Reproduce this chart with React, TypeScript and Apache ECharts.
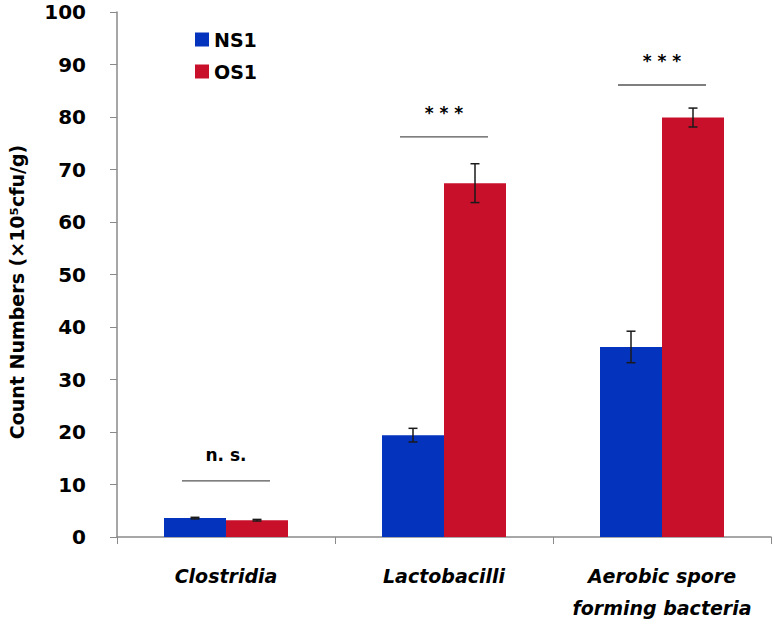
import React, { useEffect, useRef } from "react";
import * as echarts from "echarts";

const categories = ["Clostridia", "Lactobacilli", "Aerobic spore\nforming bacteria"];
const seriesNames = ["NS1", "OS1"];
const ns1Values = [3.6, 19.4, 36.2];
const ns1Errors = [0.15, 1.3, 3.0];
const os1Values = [3.2, 67.4, 79.9];
const os1Errors = [0.15, 3.7, 1.8];
const sigLevels = [10.7, 76.2, 86.1];
const sigLabels = ["n. s.", "* * *", "* * *"];
const yAxisTitle = "Count Numbers (×10⁵cfu/g)";

const BLUE = "#0433BE";
const RED = "#C8102B";
const FONT = "'DejaVu Sans', Verdana, sans-serif";

export default function App() {
  const ref = useRef<HTMLDivElement>(null);
  useEffect(() => {
    if (!ref.current) return;
    const chart = echarts.init(ref.current, undefined, { renderer: "svg" });
    const barW = 62;

    const errData: any[] = [];
    ns1Values.forEach((v, i) => errData.push([i, v, ns1Errors[i], -1]));
    os1Values.forEach((v, i) => errData.push([i, v, os1Errors[i], 1]));

    const sigData = sigLevels.map((v, i) => [i, v, sigLabels[i]]);

    chart.setOption({
      animation: false,
      grid: { left: 117, right: 3, top: 12, bottom: 87 },
      graphic: [
        {
          type: "text",
          x: 17,
          y: 292,
          rotation: Math.PI / 2,
          style: {
            text: yAxisTitle,
            fill: "#000",
            font: `bold 19px ${FONT}`,
            textAlign: "center",
            textVerticalAlign: "middle",
          },
        },
      ],
      legend: {
        data: seriesNames,
        orient: "vertical",
        left: 190,
        top: 25,
        itemWidth: 14,
        itemHeight: 14,
        itemGap: 13,
        icon: "rect",
        textStyle: { fontFamily: FONT, fontWeight: "bold", fontSize: 19, color: "#000" },
      },
      xAxis: {
        type: "category",
        data: categories,
        axisLine: { lineStyle: { color: "#8a8a8a", width: 1.5 } },
        axisTick: { show: true, length: 7, lineStyle: { color: "#8a8a8a" } },
        axisLabel: {
          interval: 0,
          hideOverlap: false,
          margin: 23,
          fontFamily: FONT,
          fontWeight: "bold",
          fontStyle: "italic",
          fontSize: 19,
          color: "#000",
          lineHeight: 32,
        },
      },
      yAxis: {
        type: "value",
        min: 0,
        max: 100,
        interval: 10,
        axisLine: { show: true, lineStyle: { color: "#8a8a8a", width: 1.5 } },
        axisTick: { show: true, length: 7, lineStyle: { color: "#8a8a8a" } },
        splitLine: { show: false },
        axisLabel: {
          margin: 31,
          fontFamily: FONT,
          fontWeight: "bold",
          fontSize: 20,
          color: "#000",
        },
      },
      series: [
        {
          name: "NS1",
          type: "bar",
          data: ns1Values,
          barWidth: barW,
          barGap: "0%",
          itemStyle: { color: BLUE },
        },
        {
          name: "OS1",
          type: "bar",
          data: os1Values,
          barWidth: barW,
          barGap: "0%",
          itemStyle: { color: RED },
        },
        {
          type: "custom",
          data: errData,
          z: 10,
          renderItem: (params: any, api: any) => {
            const cat = api.value(0);
            const v = api.value(1);
            const e = api.value(2);
            const side = api.value(3);
            const top = api.coord([cat, v + e]);
            const bot = api.coord([cat, v - e]);
            const x = top[0] + (side * barW) / 2;
            const cap = 4.5;
            const style = { stroke: "#1a1a1a", lineWidth: 1.5 };
            return {
              type: "group",
              children: [
                { type: "line", shape: { x1: x, y1: top[1], x2: x, y2: bot[1] }, style },
                { type: "line", shape: { x1: x - cap, y1: top[1], x2: x + cap, y2: top[1] }, style },
                { type: "line", shape: { x1: x - cap, y1: bot[1], x2: x + cap, y2: bot[1] }, style },
              ],
            };
          },
        },
        {
          type: "custom",
          data: sigData,
          z: 10,
          renderItem: (params: any, api: any) => {
            const cat = api.value(0);
            const v = api.value(1);
            const label = sigData[params.dataIndex][2] as string;
            const p = api.coord([cat, v]);
            const half = 44;
            const isStar = label.indexOf("*") >= 0;
            return {
              type: "group",
              children: [
                {
                  type: "line",
                  shape: { x1: p[0] - half, y1: p[1], x2: p[0] + half, y2: p[1] },
                  style: { stroke: "#555", lineWidth: 1.3 },
                },
                {
                  type: "text",
                  x: p[0],
                  y: p[1] - (isStar ? 24 : 26),
                  style: {
                    text: label,
                    fill: "#000",
                    font: `bold 17px ${FONT}`,
                    textAlign: "center",
                    textVerticalAlign: "middle",
                  },
                },
              ],
            };
          },
        },
      ],
    });
    return () => chart.dispose();
  }, []);
  return <div ref={ref} style={{ width: 774, height: 624, position: "absolute", left: 0, top: 0 }} />;
}
